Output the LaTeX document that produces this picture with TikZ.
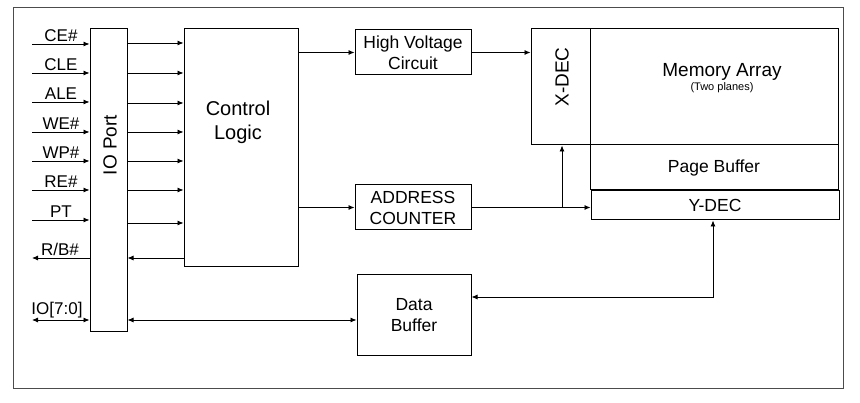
\documentclass[tikz,border=0pt]{standalone}
\usepackage{fontspec}
\setmainfont{Liberation Sans}
\usetikzlibrary{arrows.meta}
\begin{document}
\begin{tikzpicture}[x=1pt,y=-1pt,
  box/.style={draw,line width=1pt,inner sep=0pt},
  ar/.style={-{Latex[length=6pt,width=5pt]},line width=0.8pt},
  dar/.style={{Latex[length=6pt,width=5pt]}-{Latex[length=6pt,width=5pt]},line width=0.8pt},
  lab/.style={font=\fontsize{17}{19}\selectfont,anchor=south,inner sep=1pt},
  txt/.style={font=\fontsize{17.5}{21}\selectfont,align=center}]
\path[use as bounding box] (0,0) rectangle (860,403);
\draw[line width=1pt,black!70] (13,8) rectangle (843,389);
% boxes
\node[box,minimum width=37pt,minimum height=303pt] (io) at (108.5,180.5) {};
\node[txt,font=\fontsize{19}{22}\selectfont,rotate=90] at (110,145) {IO Port};
\node[box,minimum width=114pt,minimum height=238pt] (cl) at (241,148) {};
\node[txt,font=\fontsize{20}{24}\selectfont] at (238,122) {Control\\Logic};
\node[box,minimum width=116pt,minimum height=45pt,txt] (hv) at (413,52.5) {High Voltage\\Circuit};
\node[box,minimum width=116pt,minimum height=45pt,txt] (ac) at (413,207.5) {ADDRESS\\COUNTER};
\node[box,minimum width=114pt,minimum height=81pt,txt] (db) at (414,315.5) {Data\\Buffer};
\node[box,minimum width=59pt,minimum height=116pt] (xd) at (560.5,87) {};
\node[txt,font=\fontsize{19}{22}\selectfont,rotate=90] at (562,77) {X-DEC};
\node[box,minimum width=248pt,minimum height=116pt] (ma) at (714,87) {};
\node[txt,font=\fontsize{19}{22}\selectfont] at (722,72) {Memory Array};
\node[font=\fontsize{11}{13}\selectfont] at (722,88) {(Two planes)};
\node[box,minimum width=248pt,minimum height=45pt,txt] (pb) at (714,167.5) {Page Buffer};
\node[box,minimum width=248pt,minimum height=29pt,txt] (yd) at (715,205.5) {Y-DEC};
% inputs
\foreach \y/\t in {44/CE\#,73/CLE,102/ALE,132/WE\#,161/WP\#,190/RE\#,220/PT}{
  \coordinate (s\y) at (32,\y);
  \draw[ar] (s\y) -- (io.west |- s\y);
  \node[lab] at (61,\y-1) {\t};
}
\coordinate (rb) at (32,258);
\draw[ar] (io.west |- rb) -- (rb);
\node[lab] at (60,257) {R/B\#};
\coordinate (iop) at (32,320);
\draw[dar] (iop) -- (io.west |- iop);
\node[lab] at (57,319) {IO[7:0]};
% io -> cl
\foreach \y in {43,73,103,132,161,190,223}{
  \draw[ar] (io.east |- 0,\y) -- (cl.west |- 0,\y);
}
\draw[ar] (cl.west |- 0,258) -- (io.east |- 0,258);
\draw[dar] (io.east |- 0,320) -- (db.west |- 0,320);
% right side
\draw[ar] (cl.east |- hv) -- (hv.west);
\draw[ar] (hv.east) -- (xd.west |- hv);
\draw[ar] (cl.east |- ac) -- (ac.west);
\draw[ar] (ac.east) -- (yd.west |- ac);
\coordinate (br) at (562,207.5);
\draw[ar] (br) -- (br |- xd.south);
\coordinate (yb) at (713,297);
\draw[dar] (db.east |- yb) -- (yb) -- (yb |- yd.south);
\end{tikzpicture}
\end{document}
